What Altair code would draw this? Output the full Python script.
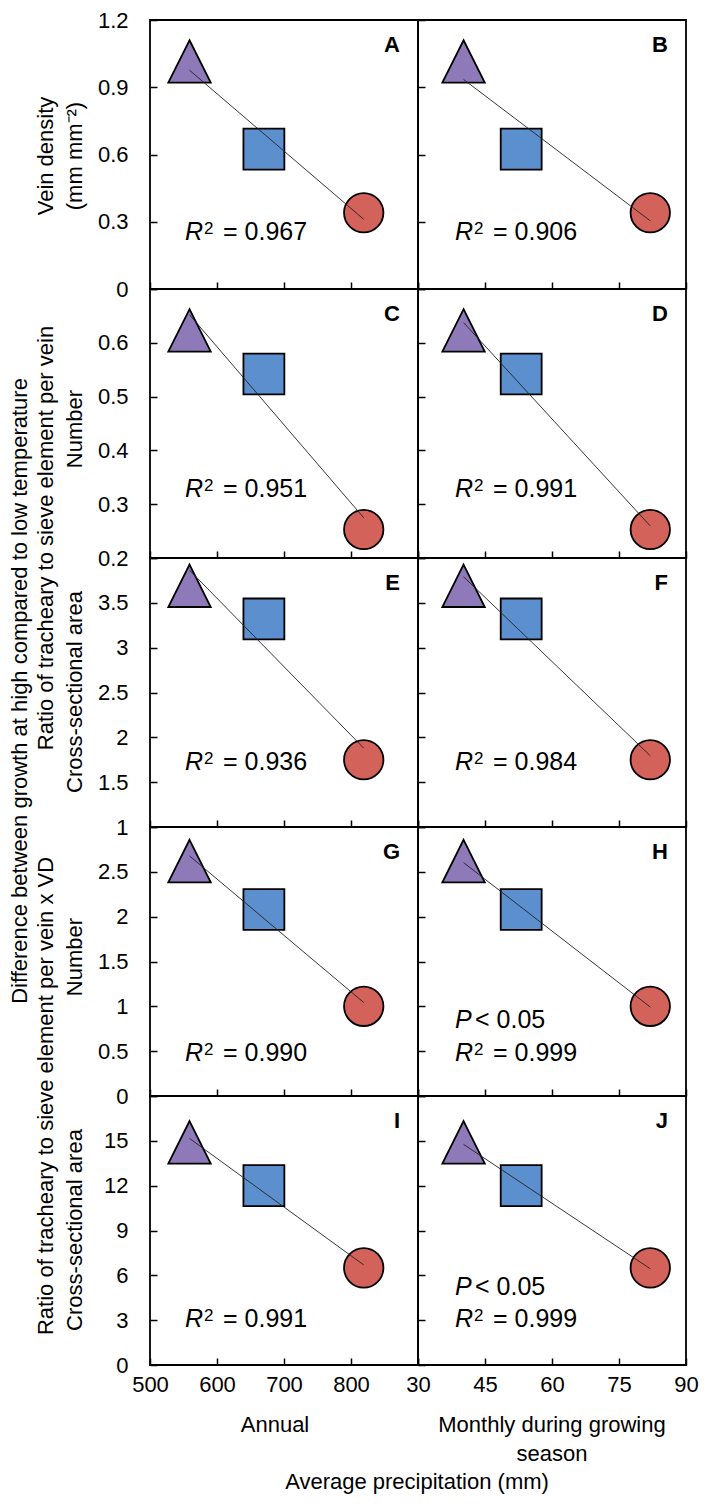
import altair as alt
import pandas as pd

FONT = "Liberation Sans"

# ---- data -------------------------------------------------------------
sites = ["Site 1", "Site 2", "Site 3"]
site_colors = ["#8E7AB8", "#5B8FCE", "#D2625A"]
site_shapes = ["M0,-1L1,1L-1,1Z", "square", "circle"]
site_sizes = [1800, 1550, 1257]

annual_precip = [559, 670, 819]        # mm
monthly_precip = [40.2, 53.1, 82.0]    # mm

vein_density = [1.015, 0.624, 0.340]
tse_per_vein_number = [0.623, 0.542, 0.253]
tse_per_vein_area = [3.69, 3.32, 1.75]
tse_vd_number = [2.62, 2.08, 1.00]
tse_vd_area = [14.9, 12.0, 6.5]

rows_values = [vein_density, tse_per_vein_number, tse_per_vein_area,
               tse_vd_number, tse_vd_area]

r2_annual = ["0.967", "0.951", "0.936", "0.990", "0.991"]
r2_monthly = ["0.906", "0.991", "0.984", "0.999", "0.999"]
p_monthly = [None, None, None, "< 0.05", "< 0.05"]
letters_left = ["A", "C", "E", "G", "I"]
letters_right = ["B", "D", "F", "H", "J"]

y_ticks = [
    [0, 0.3, 0.6, 0.9, 1.2],
    [0.2, 0.3, 0.4, 0.5, 0.6, 0.7],
    [1, 1.5, 2, 2.5, 3, 3.5, 4],
    [0, 0.5, 1, 1.5, 2, 2.5, 3],
    [0, 3, 6, 9, 12, 15, 18],
]
x_ticks_annual = [500, 600, 700, 800, 900]
x_ticks_monthly = [30, 45, 60, 75, 90]

# ---- layout / style ----------------------------------------------------
W, H = 268, 269
TICK = alt.ExprRef(expr="-7")
r2_base = [H - 49, H - 61, H - 57, H - 35, H - 38]
p_base = [None, None, None, H - 68, H - 70]

left_titles = [
    [("Vein density", -104, 136), ("(mm mm\u207b\u00b2)", -75, 136)],
    [("Ratio of tracheary to sieve element per vein", -104, 249), ("Number", -75, 140)],
    [("Difference between growth at high compared to low temperature", -130, 133),
     ("Cross-sectional area", -75, 134)],
    [("Ratio of tracheary to sieve element per vein x VD", -104, H), ("Number", -75, 130)],
    [("Cross-sectional area", -75, 134)],
]

one = pd.DataFrame({"k": [0]})


def txt(text, x, y, size=22, **kw):
    return alt.Chart(one).mark_text(
        font=FONT, fontSize=size, color="black", **kw
    ).encode(x=alt.value(x), y=alt.value(y), text=alt.value(text))


def r2_label(x0, yb, value):
    return [
        txt("R", x0, yb, 25, fontStyle="italic", align="left", baseline="alphabetic"),
        txt("2", x0 + 19, yb - 6, 17, align="left", baseline="alphabetic"),
        txt("= " + value, x0 + 38, yb, 25, align="left", baseline="alphabetic"),
    ]


def p_label(x0, yb, value):
    return [
        txt("P", x0, yb, 25, fontStyle="italic", align="left", baseline="alphabetic"),
        txt(value, x0 + 20, yb, 25, align="left", baseline="alphabetic"),
    ]


def panel(row, left):
    xs = annual_precip if left else monthly_precip
    xt = x_ticks_annual if left else x_ticks_monthly
    ys = rows_values[row]
    yt = y_ticks[row]
    bottom = row == 4
    df = pd.DataFrame({"x": xs, "y": ys, "site": sites})

    if bottom:
        xaxis = alt.Axis(values=xt, title=None, tickSize=TICK, labelPadding=16,
                         labelExpr=("datum.value == 900 ? '' : datum.label") if left else "datum.label")
    else:
        xaxis = alt.Axis(values=xt, title=None, tickSize=TICK, labels=False)
    if left:
        lab = "datum.label" if row == 0 else f"datum.value >= {yt[-1]} ? '' : datum.label"
        yaxis = alt.Axis(values=yt, title=None, tickSize=TICK, labelPadding=29,
                         format="~g", labelExpr=lab)
    else:
        yaxis = alt.Axis(values=yt, title=None, tickSize=TICK, labels=False)

    base = alt.Chart(df)
    pts = base.mark_point(filled=True, opacity=1, stroke="black", strokeWidth=1.8).encode(
        x=alt.X("x:Q", scale=alt.Scale(domain=[xt[0], xt[-1]], nice=False, zero=False), axis=xaxis),
        y=alt.Y("y:Q", scale=alt.Scale(domain=[yt[0], yt[-1]], nice=False, zero=False), axis=yaxis),
        shape=alt.Shape("site:N", scale=alt.Scale(domain=sites, range=site_shapes), legend=None),
        fill=alt.Fill("site:N", scale=alt.Scale(domain=sites, range=site_colors), legend=None),
        size=alt.Size("site:N", scale=alt.Scale(domain=sites, range=site_sizes), legend=None),
    )
    line = base.transform_regression("x", "y").mark_line(
        color="#222222", strokeWidth=0.9
    ).encode(x="x:Q", y="y:Q")

    layers = [pts, line]
    letter = letters_left[row] if left else letters_right[row]
    layers.append(txt(letter, W - 18, 32, 22, fontWeight="bold", align="right", baseline="alphabetic"))
    x0 = 35 if left else 37
    layers += r2_label(x0, r2_base[row], r2_annual[row] if left else r2_monthly[row])
    if not left and p_monthly[row]:
        layers += p_label(x0, p_base[row], p_monthly[row])
    if left:
        for t, x, y in left_titles[row]:
            layers.append(txt(t, x, y, 22, angle=270, align="center", baseline="middle"))
    if bottom:
        if left:
            layers.append(txt("Annual", 125, H + 60, 22, align="center", baseline="middle"))
            layers.append(txt("Average precipitation (mm)", W - 1, H + 117, 22, align="center", baseline="middle"))
        else:
            layers.append(txt("Monthly during growing", 134, H + 60, 22, align="center", baseline="middle"))
            layers.append(txt("season", 134, H + 89, 22, align="center", baseline="middle"))
    return alt.layer(*layers).properties(width=W, height=H)


panels = []
for r in range(5):
    panels.append(panel(r, True))
    panels.append(panel(r, False))

chart = alt.concat(*panels, columns=2, spacing=0, bounds="flush").properties(
    padding={"left": 0, "top": 0, "right": 0, "bottom": 0}
).configure_view(
    stroke="black", strokeWidth=1.8
).configure_axis(
    labelFont=FONT, labelFontSize=22, labelColor="black",
    tickColor="black", tickWidth=1.5, domain=False, grid=False,
    labelFlush=False, labelOverlap=False,
)

chart.save("out.html", embed_options={"renderer": "svg", "actions": False})
